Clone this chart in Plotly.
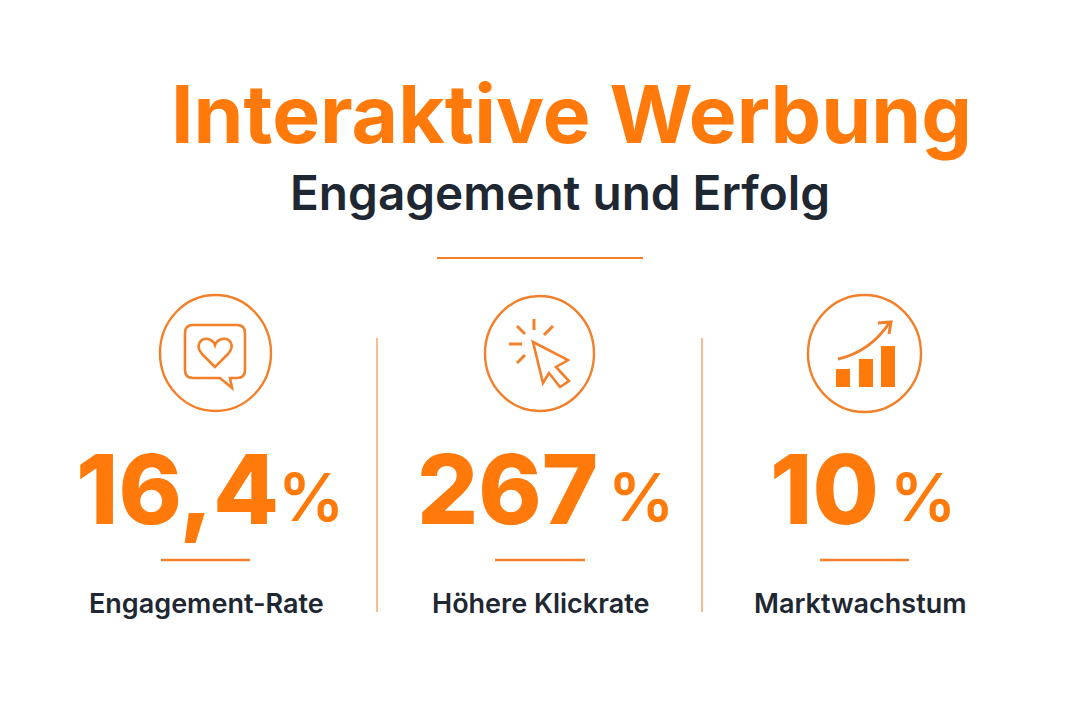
import plotly.graph_objects as go

title = "Interaktive Werbung"
subtitle = "Engagement und Erfolg"
values = ["16,4", "267", "10"]
units = ["%", "%", "%"]
labels = ["Engagement-Rate", "Höhere Klickrate", "Marktwachstum"]

ORANGE = "#FF7A0A"
LINE = "#F2802A"
DIVIDER = "#F4A66E"
DARK = "#1E2732"
FONT = "Inter"

# panel geometry in page pixels
value_x = [74, 415, 768]
unit_x = [276, 606, 888]
label_x = [206, 540, 860]
rule_x = [(161, 250), (495, 585), (820, 909)]
circles = [(160, 295, 271, 411), (485, 296, 594, 411), (808, 295, 921, 412)]

bubble_path = ("M 193 325 L 237 325 Q 245 325 245 333 L 245 370 Q 245 378 237 378 L 230 378 "
               "L 232 388 L 220 378 L 193 378 Q 185 378 185 370 L 185 333 Q 185 325 193 325 Z")
heart_path = ("M 215 367 L 202 354 C 194 345 202 337 208 339 C 212 340 214 342 215 345 "
              "C 216 342 218 340 222 339 C 229 337 236 345 228 354 Z")
cursor_path = "M 533 342 L 568 360 L 556 367 L 569 381 L 560 387 L 549 373 L 543 383 Z"
rays = [(534, 319, 534, 330), (517, 326, 525, 334), (553, 326, 544, 335),
        (509, 344, 522, 344), (525, 355, 517, 363)]
bars = [(836, 369, 850, 387), (859, 359, 873, 387), (881, 346, 895, 387)]
trend_path = "M 838 359 Q 870 352 890 322"
trend_head = "M 878 323 L 891 322 L 889 334"

fig = go.Figure()
shapes = []


def rule(x0, y0, x1, y1, color=LINE, width=2.5):
    shapes.append(dict(type="line", x0=x0, y0=y0, x1=x1, y1=y1, line=dict(color=color, width=width)))


def outline(path, width=2.6):
    shapes.append(dict(type="path", path=path, line=dict(color=LINE, width=width)))


rule(437, 258, 643, 258, width=2)
rule(377, 338, 377, 612, color=DIVIDER, width=1.5)
rule(702, 338, 702, 612, color=DIVIDER, width=1.5)
for x0, x1 in rule_x:
    rule(x0, 560, x1, 560)
for x0, y0, x1, y1 in circles:
    shapes.append(dict(type="circle", x0=x0, y0=y0, x1=x1, y1=y1, line=dict(color=LINE, width=2.4)))
outline(bubble_path)
outline(heart_path)
outline(cursor_path)
for x0, y0, x1, y1 in rays:
    rule(x0, y0, x1, y1, width=3)
for x0, y0, x1, y1 in bars:
    shapes.append(dict(type="rect", x0=x0, y0=y0, x1=x1, y1=y1, fillcolor=ORANGE, line=dict(width=0)))
outline(trend_path, 3)
outline(trend_head, 3)


def text(x, y, s, size, color, weight, anchor="left"):
    fig.add_annotation(x=x, y=y, text=s, showarrow=False, xanchor=anchor, yanchor="middle",
                       font=dict(family=FONT, size=size, color=color, weight=weight))


text(571, 113, title, 80.3, ORANGE, 700, "center")
text(560, 193, subtitle, 47.7, DARK, 600, "center")
for i in range(3):
    text(value_x[i], 489, values[i], 96, ORANGE, 800)
    text(unit_x[i], 497, units[i], 66, ORANGE, 600)
    text(label_x[i], 603, labels[i], 27, DARK, 600, "center")

fig.update_layout(
    width=1080, height=720, margin=dict(l=0, r=0, t=0, b=0),
    paper_bgcolor="white", plot_bgcolor="white", shapes=shapes, showlegend=False,
    xaxis=dict(range=[0, 1080], visible=False),
    yaxis=dict(range=[720, 0], visible=False),
)
# the page body has a default margin that would push the figure off by 8px
fig.write_html("out.html", config=dict(displayModeBar=False),
               post_script="document.body.style.margin = '0';")
